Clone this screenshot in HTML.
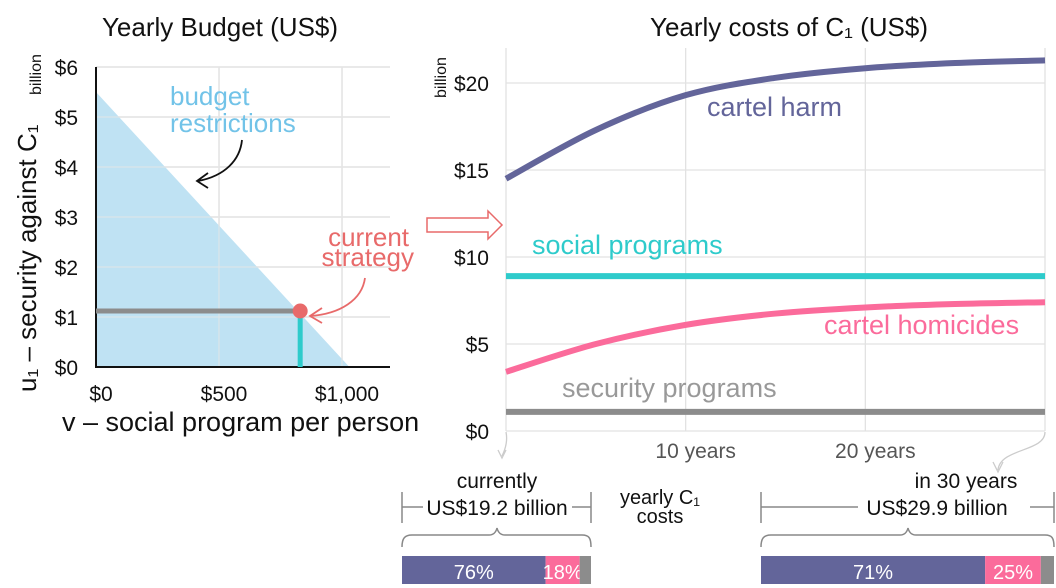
<!DOCTYPE html>
<html><head><meta charset="utf-8">
<style>
body{margin:0;background:#fff;}
svg{display:block;font-family:"Liberation Sans",sans-serif;}
</style></head>
<body>
<svg id="c" width="1056" height="588" viewBox="0 0 1056 588" xmlns="http://www.w3.org/2000/svg">
<g id="left"></g>
<g id="right"></g>
<g id="bottom"></g>
</svg>
<script>
// ---- Left chart data ----
const budgetYTicks = [0,1,2,3,4,5,6];
const budgetYLabels = ["$0","$1","$2","$3","$4","$5","$6"];
const budgetXTicks = [0,500,1000];
const budgetXLabels = ["$0","$500","$1,000"];
const budgetLineU = [5.5, 0];
const budgetLineV = [0, 1030];
const currentV = [830];
const currentU = [1.12];

// ---- Right chart data ----
const years = [0,5,10,15,20,25,30];
const cartelHarm = [14.5,17.3,19.3,20.3,20.85,21.15,21.3];
const cartelHomicides = [3.4,5.0,6.1,6.75,7.1,7.3,7.4];
const socialPrograms = [8.9,8.9,8.9,8.9,8.9,8.9,8.9];
const securityPrograms = [1.1,1.1,1.1,1.1,1.1,1.1,1.1];
const costYTicks = [0,5,10,15,20];
const costYLabels = ["$0","$5","$10","$15","$20"];
const costXTicks = [10,20];
const costXLabels = ["10 years","20 years"];

// ---- Bottom shares ----
const shareNow = [76,18,6];
const share30 = [76.5,19,4.5];
const shareLabelsNow = ["76%","18%",""];
const shareLabels30 = ["71%","25%",""];

const NS="http://www.w3.org/2000/svg";
function mk(parent,tag,attrs,text){const e=document.createElementNS(NS,tag);for(const k in attrs)e.setAttribute(k,attrs[k]);if(text!==undefined)e.textContent=text;parent.appendChild(e);return e;}

const L=document.getElementById('left');
const lx=v=>96+v*(123/500), ly=u=>367-u*50;
budgetYTicks.forEach((t,i)=>{
  const g=mk(L,'line',{x1:lx(0),x2:390,y1:ly(t),y2:ly(t),stroke:'#e2e2e2','stroke-width':1.5});
  
  
  const tx=mk(L,'text',{x:78,y:ly(t)+8,'text-anchor':'end','font-size':21,fill:'#111'},budgetYLabels[i]);
  
  
});
budgetXTicks.forEach((t,i)=>{
  const g=mk(L,'line',{x1:lx(t),x2:lx(t),y1:ly(6),y2:ly(0),stroke:'#e2e2e2','stroke-width':1.5});
  
  
  const tx=mk(L,'text',{x:lx(t)+5,y:401,'text-anchor':'middle','font-size':21,fill:'#111'},budgetXLabels[i]);
  
  
});
const tri=mk(L,'polygon',{points:`${lx(budgetLineV[0])},${ly(budgetLineU[0])} ${lx(budgetLineV[1])},${ly(budgetLineU[1])} ${lx(0)},${ly(0)}`,fill:'#bfe2f3'});


budgetYTicks.forEach(t=>{const g=mk(L,'line',{x1:lx(0),x2:390,y1:ly(t),y2:ly(t),stroke:'#e6e6e6','stroke-width':1.2,opacity:0.7});
  
  });
budgetXTicks.forEach(t=>{const g=mk(L,'line',{x1:lx(t),x2:lx(t),y1:ly(6),y2:ly(0),stroke:'#e6e6e6','stroke-width':1.2,opacity:0.7});
  
  });
const ax=mk(L,'path',{d:`M${lx(0)},${ly(6)} V${ly(0)} H390`,fill:'none',stroke:'#111','stroke-width':2});


const hl=mk(L,'line',{x1:lx(0),x2:lx(currentV[0]),y1:ly(currentU[0]),y2:ly(currentU[0]),stroke:'#8c8c8c','stroke-width':5});


const vl=mk(L,'line',{x1:lx(currentV[0]),x2:lx(currentV[0]),y1:ly(currentU[0]),y2:ly(0),stroke:'#2ecbcb','stroke-width':5});


const pt=mk(L,'circle',{cx:lx(currentV[0]),cy:ly(currentU[0]),r:7.5,fill:'#e86a6a'});


</script>
<script>
(function(){
const L=document.getElementById('left');
const add=(tag,a,t,n)=>{const e=mk(L,tag,a,t);return e;};
add('text',{x:220,y:36,'text-anchor':'middle','font-size':26,fill:'#111'},'Yearly Budget (US$)','budget-title');
add('text',{x:170,y:105,'font-size':26,fill:'#72c3e8'},'budget','budget-label-line1');
add('text',{x:170,y:132,'font-size':26,fill:'#72c3e8'},'restrictions','budget-label-line2');
add('path',{d:'M242,140 C240,160 225,176 198,181 M208,173 L197,181 L208,188',fill:'none',stroke:'#111','stroke-width':1.8},undefined,'budget-arrow');
add('text',{x:409,y:246,'text-anchor':'end','font-size':26,fill:'#e86a6a'},'current','current-label-line1');
add('text',{x:414,y:266,'text-anchor':'end','font-size':26,fill:'#e86a6a'},'strategy','current-label-line2');
add('path',{d:'M365,278 C362,300 340,314 310,316 M322,308 L310,316 L322,323',fill:'none',stroke:'#e86a6a','stroke-width':1.8},undefined,'current-arrow');
add('text',{x:0,y:0,'font-size':26,fill:'#111',transform:'translate(36,392) rotate(-90)'},'u₁ – security against C₁','budget-y-title');
add('text',{x:0,y:0,'font-size':16,fill:'#111',transform:'translate(41,95) rotate(-90)'},'billion','budget-y-unit');
add('text',{x:62,y:431,'font-size':27,fill:'#111'},'v – social program per person','budget-x-title');
add('path',{d:'M427,218 H488 V211 L502,225 L488,239 V232 H427 Z',fill:'#fff',stroke:'#e86a6a','stroke-width':1.5},undefined,'transition-arrow');
})();

(function(){
const R=document.getElementById('right');
const x0=506,x1=1045;
const rx=t=>x0+t*(x1-x0)/30, ry=v=>431-v*17.4;
costYTicks.forEach((t,i)=>{
  const g=mk(R,'line',{x1:x0,x2:x1,y1:ry(t),y2:ry(t),stroke:'#e2e2e2','stroke-width':1.3});
  
  
  const tx=mk(R,'text',{x:489,y:ry(t)+8,'text-anchor':'end','font-size':21,fill:'#111'},costYLabels[i]);
  
  
});
[0].concat(costXTicks).concat([30]).forEach(t=>{
  const g=mk(R,'line',{x1:rx(t),x2:rx(t),y1:48,y2:431,stroke:'#e2e2e2','stroke-width':1.3});
  
  
});
costXTicks.forEach((t,i)=>{
  const tx=mk(R,'text',{x:rx(t)+10,y:458,'text-anchor':'middle','font-size':21,fill:'#555'},costXLabels[i]);
  
  
});
function series(arr,color,name){
  const pts=years.map((y,i)=>[rx(y),ry(arr[i])]);
  let d='M'+pts[0].join(',');
  for(let i=0;i<pts.length-1;i++){
    const p0=pts[Math.max(i-1,0)],p1=pts[i],p2=pts[i+1],p3=pts[Math.min(i+2,pts.length-1)];
    const c1=[p1[0]+(p2[0]-p0[0])/6,p1[1]+(p2[1]-p0[1])/6],c2=[p2[0]-(p3[0]-p1[0])/6,p2[1]-(p3[1]-p1[1])/6];
    d+=` C${c1.join(',')} ${c2.join(',')} ${p2.join(',')}`;
  }
  const p=mk(R,'path',{d:d,fill:'none',stroke:color,'stroke-width':6});
  
  
}
series(cartelHarm,'#63659a','cartel-harm-line');
series(socialPrograms,'#2ecbcb','social-programs-line');
series(cartelHomicides,'#fb6b9b','cartel-homicides-line');
series(securityPrograms,'#8c8c8c','security-programs-line');
const add=(tag,a,t,n)=>{const e=mk(R,tag,a,t);return e;};
add('text',{x:789,y:36,'text-anchor':'middle','font-size':26,fill:'#111'},'Yearly costs of C₁ (US$)','cost-title');
add('text',{x:0,y:0,'font-size':16,fill:'#111',transform:'translate(446,98) rotate(-90)'},'billion','cost-y-unit');
add('text',{x:707,y:116,'font-size':27,fill:'#63659a'},'cartel harm','cartel-harm-label');
add('text',{x:532,y:254,'font-size':27,fill:'#2ecbcb'},'social programs','social-programs-label');
add('text',{x:824,y:334,'font-size':27,fill:'#fb6b9b'},'cartel homicides','cartel-homicides-label');
add('text',{x:562,y:397,'font-size':27,fill:'#999'},'security programs','security-programs-label');
add('path',{d:'M506,432 C508,442 505,450 502,456 M498,450 L502,458 L506,450',fill:'none',stroke:'#ccc','stroke-width':1.3},undefined,'now-pointer');
add('path',{d:'M1045,432 C1045,452 1000,448 998,470 M993,462 L998,472 L1003,462',fill:'none',stroke:'#ccc','stroke-width':1.3},undefined,'future-pointer');
})();

(function(){
const B=document.getElementById('bottom');
const add=(tag,a,t,n)=>{const e=mk(B,tag,a,t);return e;};
const colors=['#63659a','#fb6b9b','#8c8c8c'];
function bar(x0,w,shares,labels,name){
  let x=x0;const tot=shares.reduce((a,b)=>a+b,0);
  shares.forEach((s,i)=>{
    const ww=w*s/tot;
    const r=mk(B,'rect',{x:x,y:556,width:ww,height:28,fill:colors[i]});
    
    
    if(labels[i]){const t=mk(B,'text',{x:x+ww/2,y:579,'text-anchor':'middle','font-size':20,fill:'#fff'},labels[i]);
      
      }
    x+=ww;
  });
}
bar(402,189,shareNow,shareLabelsNow,'current-share-bar');
bar(761,293,share30,shareLabels30,'future-share-bar');
add('text',{x:497,y:488,'text-anchor':'middle','font-size':21,fill:'#111'},'currently','currently-label');
add('text',{x:497,y:515,'text-anchor':'middle','font-size':21,fill:'#111'},'US$19.2 billion','current-total');
add('path',{d:'M402,492 V523 M402,507 H423 M572,507 H591 M591,492 V523',fill:'none',stroke:'#888','stroke-width':1.5},undefined,'current-bracket');
add('path',{d:'M402,547 C402,538 405,535 412,535 H489 C494,535 496,532 497,528 C498,532 500,535 505,535 H582 C589,535 591,538 591,547',fill:'none',stroke:'#888','stroke-width':1.5},undefined,'current-brace');
add('text',{x:660,y:504,'text-anchor':'middle','font-size':20,fill:'#111'},'yearly C₁','yearly-costs-label');
add('text',{x:660,y:523,'text-anchor':'middle','font-size':20,fill:'#111'},'costs','yearly-costs-label2');
add('text',{x:966,y:488,'text-anchor':'middle','font-size':21,fill:'#111'},'in 30 years','future-label');
add('text',{x:937,y:515,'text-anchor':'middle','font-size':21,fill:'#111'},'US$29.9 billion','future-total');
add('path',{d:'M761,492 V523 M761,507 H858 M1030,507 H1054 M1054,492 V523',fill:'none',stroke:'#888','stroke-width':1.5},undefined,'future-bracket');
add('path',{d:'M761,547 C761,538 764,535 771,535 H900 C905,535 907,532 908,528 C909,532 911,535 916,535 H1045 C1052,535 1054,538 1054,547',fill:'none',stroke:'#888','stroke-width':1.5},undefined,'future-brace');
})();
</script>
</body></html>
